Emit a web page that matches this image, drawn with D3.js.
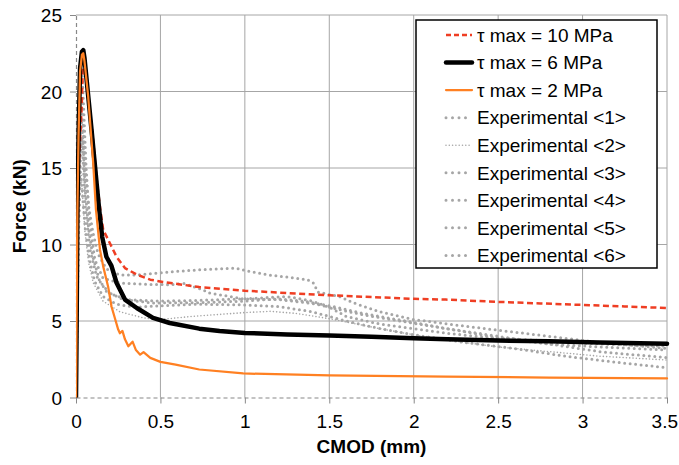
<!DOCTYPE html>
<html>
<head>
<meta charset="utf-8">
<script src="https://cdn.jsdelivr.net/npm/d3@7"></script>
<style>
html,body{margin:0;padding:0;background:#fff;}
svg{display:block;}
text{font-family:"Liberation Sans",Arial,sans-serif;}
</style>
</head>
<body>
<svg id="chart" width="679" height="465"></svg>
<script>
// ---------- data ----------
const xTicks = [0, 0.5, 1, 1.5, 2, 2.5, 3, 3.5];
const xTickLabels = ["0", "0.5", "1", "1.5", "2", "2.5", "3", "3.5"];
const yTicks = [0, 5, 10, 15, 20, 25];
const yTickLabels = ["0", "5", "10", "15", "20", "25"];
const seriesNames = ["τ max = 10 MPa", "τ max = 6 MPa", "τ max = 2 MPa",
  "Experimental <1>", "Experimental <2>", "Experimental <3>",
  "Experimental <4>", "Experimental <5>", "Experimental <6>"];

const tau10 = [[0,0],[0.005,6],[0.014,14.4],[0.024,16.8],[0.034,19],[0.042,22.3],[0.048,22.4],[0.055,21.8],[0.1,17],[0.125,14],[0.145,12.2],[0.161,10.97],[0.2,10.1],[0.24,9.2],[0.29,8.46],[0.36,8.03],[0.44,7.7],[0.515,7.55],[0.73,7.22],[1.0,6.98],[1.5,6.68],[2.0,6.45],[2.19,6.4],[2.5,6.25],[2.75,6.15],[3.0,6.05],[3.25,5.95],[3.5,5.85]];
const tau6 = [[0,0],[0.004,5],[0.008,12],[0.015,17],[0.024,21.5],[0.035,22.6],[0.043,22.7],[0.05,22.2],[0.092,17.5],[0.122,14],[0.137,12.3],[0.155,10.5],[0.18,9.2],[0.21,8.6],[0.24,7.5],[0.29,6.4],[0.36,5.85],[0.456,5.2],[0.555,4.87],[0.73,4.5],[0.85,4.35],[1.0,4.22],[1.25,4.12],[1.5,4.05],[1.75,3.97],[2.0,3.87],[2.2,3.8],[2.5,3.72],[2.8,3.67],[3.1,3.6],[3.5,3.52]];
const tau2 = [[0,0],[0.004,6],[0.008,12],[0.015,17],[0.024,21.3],[0.035,22.4],[0.043,22.5],[0.05,22],[0.072,19.7],[0.102,15.3],[0.118,12.3],[0.142,9.66],[0.161,8.57],[0.19,7.26],[0.21,5.96],[0.23,5.2],[0.25,4.44],[0.26,4.2],[0.275,4.35],[0.29,3.8],[0.31,3.35],[0.335,3.65],[0.355,3.1],[0.38,2.8],[0.4,2.96],[0.44,2.59],[0.5,2.33],[0.59,2.15],[0.73,1.83],[0.99,1.57],[1.5,1.44],[2.19,1.37],[2.8,1.3],[3.5,1.25]];
const exp1 = [[0,0],[0.008,8],[0.018,15],[0.026,19],[0.032,19.5],[0.04,18],[0.055,15],[0.075,12.5],[0.1,10.8],[0.13,9.4],[0.18,8.4],[0.26,8.0],[0.36,8.0],[0.55,8.2],[0.73,8.35],[0.95,8.45],[1.0,8.3],[1.15,8.0],[1.3,7.8],[1.37,7.7],[1.41,7.45],[1.43,6.9],[1.56,6.6],[1.64,6.2],[1.8,5.6],[2.0,5.1],[2.23,4.76],[2.5,4.4],[2.8,4.0],[3.1,3.6],[3.5,3.2]];
const exp2 = [[0,0],[0.008,7],[0.016,12],[0.024,14.5],[0.03,14.8],[0.04,13],[0.053,10.8],[0.075,8.8],[0.102,7.5],[0.16,6.3],[0.26,5.6],[0.4,5.2],[0.5,5.1],[0.69,5.3],[1.0,5.55],[1.15,5.63],[1.3,5.5],[1.5,5.15],[1.8,4.5],[2.0,4.1],[2.3,3.6],[2.5,3.3],[2.8,3.0],[3.1,2.7],[3.5,2.45]];
const exp3 = [[0,0],[0.008,8],[0.016,15],[0.024,20],[0.03,22],[0.036,21.5],[0.045,19],[0.06,15],[0.08,11.5],[0.112,9.0],[0.16,7.8],[0.26,7.48],[0.4,7.4],[0.555,7.37],[0.645,7.45],[0.69,7.26],[0.75,7.05],[0.79,6.83],[0.99,6.45],[1.2,6.4],[1.4,6.15],[1.5,5.9],[1.7,5.4],[2.0,4.85],[2.3,4.3],[2.5,3.9],[2.8,3.5],[3.1,3.3],[3.5,3.1]];
const exp4 = [[0,0],[0.008,7],[0.018,13],[0.028,16.5],[0.034,17],[0.042,15.5],[0.055,12.5],[0.083,9.66],[0.122,7.92],[0.18,6.94],[0.28,6.4],[0.456,6.18],[0.73,6.2],[1.0,6.3],[1.2,6.45],[1.35,6.3],[1.5,6.0],[1.7,5.5],[2.0,4.9],[2.2,4.5],[2.5,4.0],[2.8,3.5],[3.1,3.0],[3.5,2.6]];
const exp5 = [[0,0],[0.008,6],[0.016,11],[0.024,14],[0.03,14.3],[0.04,13],[0.055,11],[0.08,9],[0.11,7.6],[0.16,6.6],[0.24,6.1],[0.35,5.9],[0.5,6.0],[0.73,6.1],[1.0,6.05],[1.2,5.95],[1.4,5.6],[1.6,5.0],[1.8,4.5],[2.0,4.1],[2.3,3.6],[2.6,3.2],[2.9,2.7],[3.2,2.3],[3.5,1.95]];
const exp6 = [[0,0],[0.008,7],[0.018,13],[0.028,17.5],[0.034,18],[0.042,16.5],[0.055,13.5],[0.075,11],[0.1,9.2],[0.14,7.6],[0.2,6.8],[0.3,6.4],[0.5,6.3],[0.73,6.35],[1.0,6.45],[1.25,6.6],[1.4,6.3],[1.5,5.9],[1.6,5.3],[1.8,4.8],[2.0,4.5],[2.2,4.2],[2.45,3.9],[2.8,3.7],[3.1,3.5],[3.5,3.35]];

// ---------- layout ----------
const svg = d3.select("#chart");
const L = 76, R = 667, T = 15, B = 397.5;
const x = d3.scaleLinear().domain([0, 3.5]).range([L, R]);
const y = d3.scaleLinear().domain([0, 25]).range([B, T]);
const gridColor = "#a6a6a6";
const FS = 19;

// gridlines
svg.append("g").selectAll("line.h").data(yTicks.filter(d => d > 0)).join("line")
  .attr("x1", L).attr("x2", R).attr("y1", d => y(d)).attr("y2", d => y(d))
  .attr("stroke", gridColor).attr("stroke-width", 1);
svg.append("g").selectAll("line.v").data(xTicks.filter(d => d > 0)).join("line")
  .attr("x1", d => x(d)).attr("x2", d => x(d)).attr("y1", T).attr("y2", B)
  .attr("stroke", gridColor).attr("stroke-width", 1);

// axes
const xAxis = d3.axisBottom(x).tickValues(xTicks).tickFormat((d, i) => xTickLabels[i]).tickSize(6).tickSizeOuter(0);
const yAxis = d3.axisLeft(y).tickValues(yTicks).tickFormat((d, i) => yTickLabels[i]).tickSize(6).tickSizeOuter(0);
const gx = svg.append("g").attr("transform", `translate(0,${B})`).call(xAxis);
const gy = svg.append("g").attr("transform", `translate(${L},0)`).call(yAxis);
[gx, gy].forEach(g => {
  g.select(".domain").attr("stroke", "#888").attr("stroke-dasharray", "4 3").attr("stroke-width", 1.2);
  g.selectAll(".tick line").attr("stroke", "#888");
  g.selectAll(".tick text").attr("fill", "#000").attr("font-size", FS)
    .attr("font-family", "Liberation Sans, Arial, sans-serif");
});
gx.selectAll(".tick text").attr("dy", null).attr("y", 30);
// keep the last label inside the picture
gx.selectAll(".tick text").filter(d => d === 3.5).attr("text-anchor", "end").attr("x", 10.5);
gy.selectAll(".tick text").attr("x", -14).attr("dy", "0.35em");

// axis titles
svg.append("text").attr("x", (L + R) / 2).attr("y", 453).attr("text-anchor", "middle")
  .attr("font-size", FS).attr("font-weight", "bold").text("CMOD (mm)");
svg.append("text").attr("transform", `translate(26,${(T + B) / 2}) rotate(-90)`)
  .attr("text-anchor", "middle").attr("font-size", FS).attr("font-weight", "bold").text("Force (kN)");

// ---------- series ----------
const styles = [
  { data: tau10, color: "#ef3e23", width: 2.5, dash: "6 3.5", cap: "butt" },
  { data: tau6, color: "#000000", width: 4.5, dash: null, cap: "round" },
  { data: tau2, color: "#ff8022", width: 2.25, dash: null, cap: "round" },
  { data: exp1, color: "#a6a6a6", width: 3, dash: "0 5.5", cap: "round" },
  { data: exp2, color: "#a6a6a6", width: 1.6, dash: "0 3.3", cap: "round" },
  { data: exp3, color: "#a6a6a6", width: 3, dash: "0 5.5", cap: "round" },
  { data: exp4, color: "#a6a6a6", width: 3, dash: "0 5.5", cap: "round" },
  { data: exp5, color: "#a6a6a6", width: 3, dash: "0 5.5", cap: "round" },
  { data: exp6, color: "#a6a6a6", width: 3, dash: "0 5.5", cap: "round" }
];
const legendDash = ["5 3", null, null, "0 6.5", "0 3.3", "0 6.5", "0 6.5", "0 6.5", "0 6.5"];
const line = d3.line().x(d => x(d[0])).y(d => y(d[1]));
svg.append("clipPath").attr("id", "plotclip").append("rect")
  .attr("x", L).attr("y", T - 5).attr("width", R - L + 3).attr("height", B - T + 5);
const gs = svg.append("g").attr("clip-path", "url(#plotclip)");
const order = [3, 4, 5, 6, 7, 8, 0, 1, 2];
order.forEach(i => {
  const s = styles[i];
  gs.append("path").datum(s.data).attr("d", line)
    .attr("fill", "none").attr("stroke", s.color).attr("stroke-width", s.width)
    .attr("stroke-linecap", s.cap).attr("stroke-linejoin", "round")
    .attr("stroke-dasharray", s.dash);
});

// ---------- legend ----------
const lg = svg.append("g");
lg.append("rect").attr("x", 416).attr("y", 20).attr("width", 241).attr("height", 248)
  .attr("fill", "#fff").attr("stroke", "#000").attr("stroke-width", 1.5);
seriesNames.forEach((name, i) => {
  const s = styles[i];
  const yy = 35 + i * 27.55;
  lg.append("line").attr("x1", 446).attr("x2", 472).attr("y1", yy).attr("y2", yy)
    .attr("stroke", s.color).attr("stroke-width", s.width)
    .attr("stroke-linecap", s.cap).attr("stroke-dasharray", legendDash[i]);
  lg.append("text").attr("x", 477).attr("y", yy).attr("dy", "0.36em")
    .attr("font-size", FS).attr("fill", "#000").text(name);
});
</script>
</body>
</html>
